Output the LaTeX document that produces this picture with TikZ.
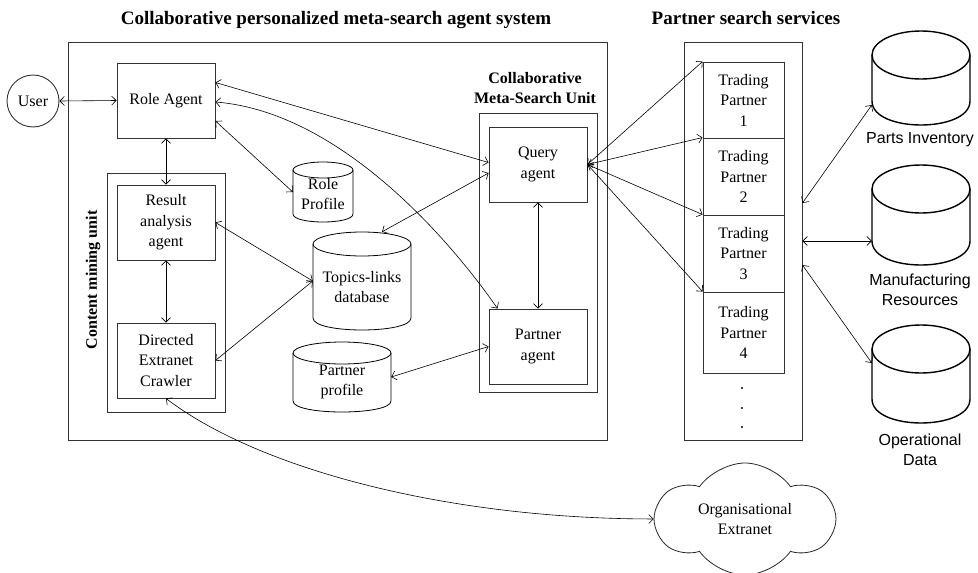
\documentclass[tikz,border=0pt]{standalone}
\usepackage{fontspec}
\setmainfont{Liberation Serif}
\newfontfamily\arialf{Liberation Sans}
\usetikzlibrary{arrows.meta,shapes.symbols,calc}

\tikzset{
 boxs/.style={draw=black!80, line width=0.9pt, inner sep=0pt, align=center, font=\fontsize{16}{20.5}\selectfont},
 frame/.style={draw=black!80, line width=0.9pt, inner sep=0pt},
 link/.style={line width=0.6pt, {Straight Barb[length=4.5pt,width=9pt]}-{Straight Barb[length=4.5pt,width=9pt]}},
 cylline/.style={line width=0.8pt},
 bigcyl/.style={line width=1.4pt},
 txt/.style={font=\fontsize{16}{20.5}\selectfont, align=center, inner sep=0pt},
 sanstxt/.style={font=\arialf\fontsize{16}{20}\selectfont, align=center, inner sep=0pt},
 ttl/.style={font=\bfseries\fontsize{19}{22}\selectfont, inner sep=0pt, anchor=base},
 subttl/.style={font=\bfseries\fontsize{16}{20}\selectfont, align=center, inner sep=0pt},
}

\newcommand\mycyl[7]{%
 \pgfmathsetmacro\cyx{(#2+#4)/2}%
 \pgfmathsetmacro\cyy{(#3+#5)/2}%
 \pgfmathsetmacro\cyrx{(#4-#2)/2}%
 \pgfmathsetmacro\cyta{#3+#6}%
 \pgfmathsetmacro\cyba{#5-#6}%
 \pgfmathsetmacro\cybc{#5+#6/3}%
 \pgfmathsetmacro\cyw{#4-#2}%
 \pgfmathsetmacro\cyh{#5-#3}%
 \node[inner sep=0pt, minimum width=\cyw pt, minimum height=\cyh pt] (#1) at (\cyx,\cyy) {};
 \draw[#7] (\cyx,\cyta) ellipse [x radius=\cyrx, y radius=#6];
 \draw[#7] (#2,\cyta) -- (#2,\cyba) .. controls (#2,\cybc) and (#4,\cybc) .. (#4,\cyba) -- (#4,\cyta);
}

\begin{document}
\begin{tikzpicture}[x=1pt,y=-1pt]
\useasboundingbox (0,0) rectangle (978,573);

% titles
\node[ttl] (t1) at (336,24) {Collaborative personalized meta-search agent system};
\node[ttl] (t2) at (746,24) {Partner search services};

% frames
\node[frame, minimum width=539pt, minimum height=398pt] (main) at (337.5,241) {};
\node[frame, minimum width=118pt, minimum height=239pt] (cmu) at (166,292.5) {};
\node[frame, minimum width=118pt, minimum height=279pt] (cmsu) at (538,252.5) {};
\node[frame, minimum width=118pt, minimum height=398pt] (pc) at (743,241) {};

\node[subttl, rotate=90] (cmul) at (93,280) {Content mining unit};
\node[subttl] (cmsul) at (535,88) {Collaborative\\Meta-Search Unit};

% user
\node[draw=black!80, line width=0.9pt, circle, minimum size=52pt, inner sep=0pt, font=\fontsize{16}{20}\selectfont] (user) at (33,101) {User};

% boxes
\node[boxs, minimum width=98pt, minimum height=75pt] (ra) at (166,100.5) {Role Agent};
\node[boxs, minimum width=98pt, minimum height=75pt] (rag) at (166,222.5) {Result\\analysis\\agent};
\node[boxs, minimum width=98pt, minimum height=75pt] (dec) at (166,360.5) {Directed\\Extranet\\Crawler};
\node[boxs, minimum width=98pt, minimum height=75pt] (qa) at (538,164.5) {Query\\agent};
\node[boxs, minimum width=98pt, minimum height=75pt] (pa) at (538,346.5) {Partner\\agent};

\node[boxs, minimum width=81pt, minimum height=76pt] (tp1) at (743.5,100) {Trading\\Partner\\1};
\node[boxs, minimum width=81pt, minimum height=77pt] (tp2) at (743.5,176.5) {Trading\\Partner\\2};
\node[boxs, minimum width=81pt, minimum height=77pt] (tp3) at (743.5,253.5) {Trading\\Partner\\3};
\node[boxs, minimum width=81pt, minimum height=81pt] (tp4) at (743.5,332.5) {Trading\\Partner\\4};
\fill (742,388) circle (1.2);
\fill (742,408) circle (1.2);
\fill (742,427) circle (1.2);

% cylinders
\mycyl{rp}{293}{162}{353}{222}{8}{cylline}
\node[txt] (rpt) at (323,194) {Role\\Profile};
\mycyl{tl}{313}{232}{411}{330}{12}{cylline}
\node[txt] (tlt) at (362,287) {Topics-links\\database};
\mycyl{pp}{293}{342}{391}{412}{11}{cylline}
\node[txt] (ppt) at (342,382) {Partner\\profile};

\mycyl{pi}{872}{31}{970}{125}{24}{bigcyl}
\node[sanstxt] (pil) at (920,140) {Parts Inventory};
\mycyl{mr}{872}{165}{970}{265}{24}{bigcyl}
\node[sanstxt] (mrl) at (920,290) {Manufacturing\\Resources};
\mycyl{od}{872}{325}{970}{423}{24}{bigcyl}
\node[sanstxt] (odl) at (920,449.5) {Operational\\Data};

% cloud
\node[cloud, draw=black!85, line width=0.8pt, cloud puffs=6, cloud puff arc=110, shape border rotate=30, aspect=1.5, minimum width=177pt, minimum height=112pt, inner sep=0pt, align=center, font=\fontsize{16}{20.5}\selectfont] (cloud) at (745,519) {Organisational\\Extranet};

% connectors
\draw[link] (user.east) -- (ra.west);
\draw[link] ([yshift=18pt]ra.east) -- ([yshift=2pt]qa.west);
\draw[link] ([yshift=-1.5pt]ra.east) .. controls (340,112) and (450,240) .. ([xshift=9pt]pa.north west);
\draw[link] ([yshift=-20.5pt]ra.east) -- (rp.west);
\draw[link] (ra.south) -- (rag.north);
\draw[link] (rag.south) -- (dec.north);
\draw[link] (rag.east) -- (tl.west);
\draw[link] (dec.east) -- (tl.west);
\draw[link] ([yshift=-8.5pt]qa.west) -- ([xshift=20pt]tl.north);
\draw[link] (qa.south) -- (pa.north);
\draw[link] (pa.west) -- (pp.east);
\draw[link] (qa.east) -- (tp1.north west);
\draw[link] (qa.east) -- (tp2.north west);
\draw[link] (qa.east) -- (tp3.north west);
\draw[link] (qa.east) -- (tp4.north west);
\draw[link] ([yshift=38pt]pc.east) -- ([yshift=-27pt]pi.west);
\draw[link] (pc.east) -- ([yshift=-26pt]mr.west);
\draw[link] ([yshift=-24pt]pc.east) -- ([yshift=11pt]od.west);
\draw[link] (dec.south) .. controls (260,470) and (450,519) .. (cloud.west);
\end{tikzpicture}
\end{document}
